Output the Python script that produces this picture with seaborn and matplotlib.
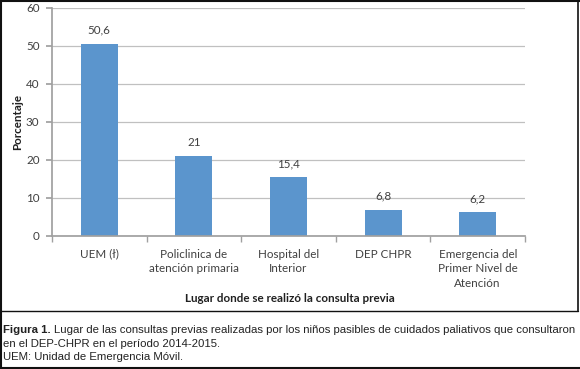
import matplotlib
matplotlib.use("Agg")
import matplotlib.pyplot as plt
import seaborn as sns
import pandas as pd
from matplotlib.lines import Line2D

categories = ["UEM (ł)", "Policlinica de\natención primaria", "Hospital del\nInterior",
              "DEP CHPR", "Emergencia del\nPrimer Nivel de\nAtención"]
values = [50.6, 21, 15.4, 6.8, 6.2]
value_labels = ["50,6", "21", "15,4", "6,8", "6,2"]
yticks = [0, 10, 20, 30, 40, 50, 60]

sns.set_theme(style="white")
plt.rcParams['font.family'] = ['Lato', 'DejaVu Sans']

W, H = 580, 369
FS = 8.4
fig = plt.figure(figsize=(W / 100, H / 100), dpi=100)
ax = fig.add_axes([52 / W, 1 - 236 / H, (525 - 52) / W, (236 - 8) / H])

df = pd.DataFrame({"cat": categories, "val": values})
sns.barplot(data=df, x="cat", y="val", color="#5b95cd", width=0.39, ax=ax,
            saturation=1, edgecolor="none")

ax.set_ylim(0, 60)
ax.set_xlim(-0.5, 4.5)
ax.set_yticks(yticks)
ax.set_yticklabels([str(t) for t in yticks], fontsize=FS, color="#404040")
ax.yaxis.grid(True, color="#c0c0c0", linewidth=0.9)
ax.set_axisbelow(True)
for s in ["top", "right"]:
    ax.spines[s].set_visible(False)
ax.spines["left"].set_color("#a0a0a0")
ax.spines["bottom"].set_color("#a0a0a0")
ax.tick_params(axis="y", which="both", left=True, length=4, color="#a0a0a0", pad=5)
ax.set_xticks([i - 0.5 for i in range(6)], minor=True)
ax.tick_params(axis="x", which="minor", bottom=True, length=4, color="#a0a0a0")
ax.tick_params(axis="x", which="major", bottom=False, pad=3)
ax.set_xticks(range(len(categories)))
ax.set_xticklabels(categories, fontsize=FS, color="#404040", linespacing=1.42)

for i, (v, lab) in enumerate(zip(values, value_labels)):
    ax.annotate(lab, (i, v), xytext=(0, 6), textcoords="offset points",
                ha="center", va="bottom", fontsize=FS, color="#404040")

ax.set_ylabel("Porcentaje", fontsize=FS, fontweight="bold", color="#202020", labelpad=2)
ax.set_xlabel("")
fig.text(290 / W, 1 - 298 / H, "Lugar donde se realizó la consulta previa",
         ha="center", va="center", fontsize=FS, fontweight="bold", color="#202020")

# borders
k = "#111111"
fig.add_artist(Line2D([0.5 / W, 0.5 / W], [0, 1], transform=fig.transFigure, color=k, lw=1.5))
fig.add_artist(Line2D([0, 1], [1 - 0.5 / H, 1 - 0.5 / H], transform=fig.transFigure, color=k, lw=1.5))
fig.add_artist(Line2D([0, 1], [0.8 / H, 0.8 / H], transform=fig.transFigure, color=k, lw=1.5))
fig.add_artist(Line2D([0, 578 / W], [1 - 311 / H, 1 - 311 / H], transform=fig.transFigure, color=k, lw=1))
fig.add_artist(Line2D([577.5 / W, 577.5 / W], [1 - 311 / H, 1], transform=fig.transFigure, color=k, lw=1.2))

cap = dict(fontsize=8.2, color="#222222", family=["Liberation Sans", "DejaVu Sans"], va="center")
t1 = fig.text(3 / W, 1 - 330 / H, "Figura 1.", fontweight="bold", **cap)
fig.canvas.draw()
bb = t1.get_window_extent(renderer=fig.canvas.get_renderer())
fig.text((bb.x1 + 3) / W, 1 - 330 / H,
         "Lugar de las consultas previas realizadas por los niños pasibles de cuidados paliativos que consultaron", **cap)
fig.text(3 / W, 1 - 344 / H, "en el DEP-CHPR en el período 2014-2015.", **cap)
fig.text(3 / W, 1 - 357 / H, "UEM: Unidad de Emergencia Móvil.", **cap)

fig.savefig("out.png", dpi=100)
